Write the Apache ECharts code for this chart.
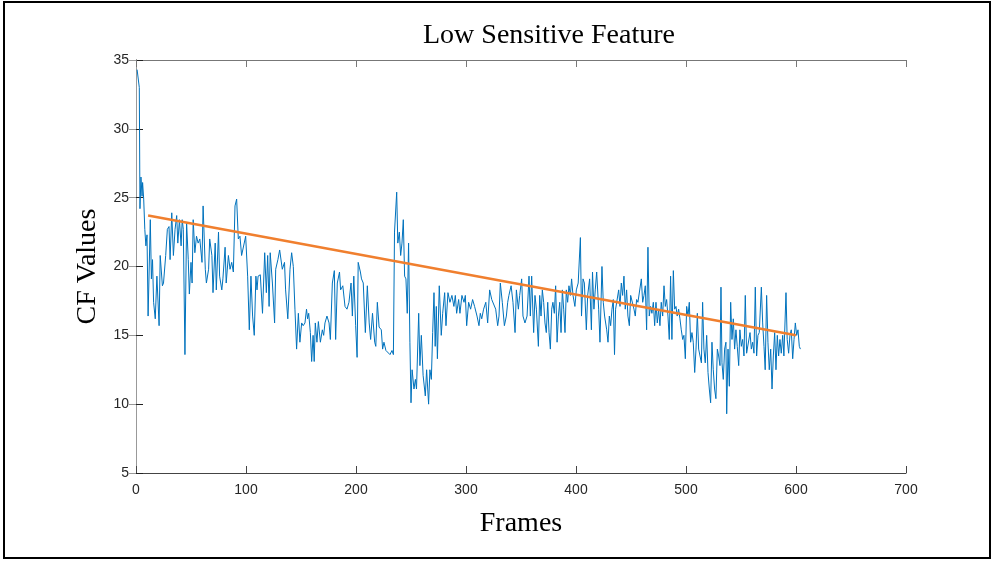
<!DOCTYPE html>
<html>
<head>
<meta charset="utf-8">
<title>Low Sensitive Feature</title>
<script src="https://cdn.jsdelivr.net/npm/echarts@6/dist/echarts.min.js"></script>
<style>
  html, body { margin: 0; padding: 0; background: #fff; }
  #chart { width: 993px; height: 563px; }
</style>
</head>
<body>
<div id="chart"></div>
<script>
// tick labels
const xTicks = [0, 100, 200, 300, 400, 500, 600, 700];
const yTicks = [5, 10, 15, 20, 25, 30, 35];

// CF value per frame [frame, value]
const cfPoints = [
  [1, 34.3], [3, 33.0], [3.6, 24.2], [4.5, 26.5], [5.5, 25.1], [6, 26.1], [7, 24.9], [8, 22.7],
  [9, 21.5], [10, 22.3], [11, 16.4], [13, 23.4], [14, 19.1], [15, 20.5], [16, 17.4], [17.5, 16.2],
  [19, 19.3], [21, 15.7], [22, 20.8], [24, 18.6], [25, 18.8], [27, 20.8], [28.5, 22.7], [30, 22.9],
  [31, 20.5], [32.5, 23.9], [34, 20.8], [35.5, 22.7], [37, 23.7], [38, 21.7], [39.5, 23.4], [41, 21.5],
  [42, 23.4], [43, 22.7], [44.5, 13.6], [46, 23.2], [47.5, 20.5], [48.5, 18.0], [50, 20.3], [51, 18.8],
  [52, 23.4], [53.5, 21.0], [55, 22.2], [56.5, 21.7], [58, 22.0], [60, 20.3], [61, 24.4], [63, 19.8],
  [64, 18.8], [66, 19.8], [67, 22.0], [69, 20.8], [70, 18.1], [72, 21.7], [73, 18.3], [75, 22.5],
  [76, 19.3], [78, 18.3], [79, 19.1], [81, 21.4], [82, 18.8], [84, 20.8], [85.5, 19.8], [87, 20.3],
  [88.5, 19.6], [90, 24.4], [91.5, 24.9], [93, 22.0], [94.5, 22.2], [96, 20.8], [97.5, 20.8],
  [99.7, 22.2], [101.5, 19.3], [103, 15.4], [104.5, 19.3], [106, 16.4], [107.5, 15.0], [109, 19.3],
  [110, 18.3], [111, 19.3], [113, 19.4], [115, 16.6], [117, 21.0], [118.5, 18.1], [119.7, 20.8],
  [121, 17.1], [122, 21.0], [124, 18.8], [126, 15.9], [127, 19.8], [129, 20.5], [130.6, 21.2],
  [132, 21.2], [133, 19.8], [135, 20.3], [136, 18.3], [138, 16.2], [140, 19.8], [141.5, 21.0],
  [143, 20.0], [144.5, 16.9], [146, 14.0], [147.6, 16.6], [149, 14.5], [150.6, 15.9], [152, 15.7],
  [153.6, 15.9], [155, 16.9], [156, 16.2], [157, 16.6], [158.5, 15.2], [159.7, 13.1], [161, 15.0],
  [162, 13.1], [163, 15.9], [164.5, 14.5], [165.8, 16.0], [167.6, 14.5], [169.4, 15.4], [170.6, 15.0],
  [171.8, 15.9], [173.6, 16.4], [175.5, 15.9], [176.7, 14.7], [178.5, 18.8], [180.3, 19.7], [181.5, 14.7],
  [183, 18.8], [185, 19.6], [186, 18.3], [188, 18.6], [190, 17.1], [191.8, 16.9], [193.6, 17.4],
  [195.5, 18.8], [196.7, 16.4], [198, 19.3], [199.7, 15.7], [201, 13.4], [202, 20.3], [204, 19.6],
  [205, 19.1], [206.6, 18.8], [208.5, 15.2], [210.3, 18.6], [212, 15.9], [213.3, 14.7], [215, 16.6],
  [217, 14.5], [218, 14.2], [219.4, 17.4], [221, 15.6], [223, 15.4], [224.2, 14.0], [225.4, 14.5],
  [227.2, 13.9], [229, 13.9], [230.9, 13.6], [232.7, 13.9], [234, 13.6], [235, 22.5], [237, 25.4],
  [238, 21.7], [239.4, 22.5], [240.6, 20.8], [241.8, 21.7], [243, 23.4], [244.2, 19.3], [245.4, 19.1],
  [246.6, 16.6], [247.8, 21.7], [249, 14.5], [250, 10.1], [251, 12.5], [252.7, 11.1], [254, 11.8],
  [255, 11.1], [257, 16.6], [258.1, 12.8], [259.4, 15.0], [261, 12.1], [263, 10.6], [264.2, 12.5],
  [266, 10.0], [267.2, 12.5], [268.5, 11.8], [269.7, 15.2], [270.9, 18.1], [272, 14.2], [273, 17.1],
  [274, 13.3], [275.7, 18.6], [277.5, 15.0], [278.8, 16.6], [280.6, 18.1], [281.8, 15.7], [283.6, 18.1],
  [285.4, 17.4], [287.2, 17.9], [289, 17.1], [290.3, 17.9], [291.5, 16.6], [293.3, 17.6], [294.5, 16.6],
  [296.3, 17.9], [298.2, 17.4], [299.4, 17.9], [300.6, 15.7], [302.4, 17.4], [304.2, 16.9], [306, 17.6],
  [307.8, 17.1], [310, 16.4], [311.8, 15.7], [313, 16.6], [314.3, 16.2], [316, 16.9], [318, 17.4],
  [319.7, 15.9], [321.5, 18.3], [323.4, 17.6], [325, 17.6], [327, 16.9], [328.8, 15.7], [330, 16.4],
  [331.2, 18.8], [333, 17.4], [334.9, 15.7], [336.7, 16.4], [337.9, 17.4], [339, 17.9], [341, 18.6],
  [342.7, 17.4], [344.6, 15.2], [345.8, 18.3], [347.6, 16.9], [348.8, 17.9], [350.6, 19.1], [351.8, 16.4],
  [353.6, 15.9], [355.5, 16.4], [357.3, 19.3], [358.5, 16.4], [359.7, 19.3], [361.5, 15.2], [362.7, 17.9],
  [364, 16.9], [365.8, 14.2], [367, 17.9], [368.2, 16.4], [369.4, 18.3], [370.6, 17.4], [371.8, 15.9],
  [373, 15.2], [374.3, 17.4], [375.5, 15.2], [376.7, 14.0], [377.9, 16.9], [379, 17.4], [380.3, 16.6],
  [381.5, 18.6], [382.8, 14.5], [384, 16.4], [385.2, 17.4], [386.4, 15.2], [387.6, 18.3], [388.8, 16.9],
  [390, 15.2], [391.2, 18.3], [392.4, 17.4], [393.6, 18.6], [394.9, 17.9], [396, 19.1], [397.3, 17.9],
  [399, 17.1], [400.3, 18.3], [402, 18.8], [404, 22.1], [405, 16.4], [406.4, 19.1], [407.6, 18.8],
  [409.4, 15.4], [410.6, 17.9], [412.4, 19.1], [414, 15.4], [415, 19.6], [416.3, 16.9], [417.5, 18.3],
  [418.8, 19.6], [420.6, 16.9], [421.8, 14.5], [423.6, 20.0], [424.8, 17.4], [426, 16.4], [427.9, 15.4],
  [429.1, 14.5], [430.3, 16.4], [431.5, 15.7], [432.7, 16.9], [433.9, 17.6], [435, 13.6], [436, 16.9],
  [437, 17.4], [438.8, 18.3], [440, 17.1], [441.2, 18.8], [442.4, 17.9], [443.6, 19.3], [444.8, 16.9],
  [446, 18.3], [447.2, 16.4], [448.5, 15.7], [449.7, 17.9], [451.5, 17.9], [452.7, 16.9], [453.9, 16.4],
  [455.1, 17.6], [456.3, 17.4], [457.5, 17.4], [459.4, 19.1], [460.6, 17.4], [461.8, 17.9], [463, 18.6],
  [464.2, 15.4], [465.4, 21.4], [466.6, 16.4], [467.8, 17.1], [469, 16.6], [470.3, 17.4], [471.5, 15.7],
  [472.7, 17.4], [473.9, 15.9], [475.1, 16.9], [476.3, 15.7], [477.5, 17.4], [478.8, 16.4], [480, 18.6],
  [481.2, 17.1], [482.4, 17.6], [483.6, 16.4], [484.8, 14.7], [486, 19.3], [487.2, 14.7], [488.5, 19.7],
  [489.7, 16.9], [490.9, 17.1], [492, 16.4], [493.3, 16.9], [494.5, 16.2], [495.7, 15.4], [497, 14.7],
  [498.1, 15.0], [499.4, 13.3], [500.6, 17.1], [501.8, 16.4], [503, 17.4], [504.2, 14.5], [505.4, 15.2],
  [506.6, 14.5], [507.9, 12.3], [509.1, 14.0], [510.3, 16.6], [511.5, 14.0], [514, 13.0], [515.1, 17.4],
  [516.3, 14.0], [517.5, 13.0], [518.8, 15.0], [520, 12.3], [521.2, 11.1], [522.4, 10.1], [523.6, 14.5],
  [524.8, 12.5], [526, 11.1], [527.2, 10.4], [528.5, 14.0], [529.7, 13.5], [530.9, 12.8], [531.8, 18.5],
  [532.7, 13.0], [533.9, 11.8], [535.1, 14.0], [536.3, 14.5], [537, 9.3], [538.2, 14.0], [539.4, 11.3],
  [540.6, 17.4], [541.8, 14.7], [543, 16.2], [544.2, 14.0], [545.4, 15.4], [546.6, 14.2], [547.9, 12.8],
  [549, 15.4], [550.3, 14.2], [551.5, 14.7], [552.7, 13.5], [553.9, 17.9], [555.1, 13.7], [556.3, 13.7],
  [558.2, 15.2], [559.4, 14.0], [560.6, 14.5], [561.8, 13.7], [563, 18.5], [564.2, 13.5], [565.4, 15.0],
  [566.6, 15.2], [568.5, 18.5], [569.7, 15.9], [570.9, 14.2], [572, 12.5], [573.3, 17.9], [574.5, 14.5],
  [575.7, 12.5], [577, 14.0], [578.2, 11.1], [579.4, 13.5], [580.6, 15.2], [581.8, 12.5], [583, 15.0],
  [584.2, 13.5], [585.4, 14.7], [586.6, 13.7], [587.9, 15.0], [589, 13.5], [590.9, 18.1], [592, 14.7],
  [593.3, 13.7], [594.5, 15.0], [595.7, 15.4], [597, 13.3], [598.2, 14.7], [599.4, 15.9], [600.6, 15.0],
  [601.8, 15.4], [603, 14.2], [604, 14.0]
];

// linear trend line (orange), ends
const trendFrames = [11, 600];
const trendValues = [23.7, 15.0];

const chart = echarts.init(document.getElementById('chart'));

const labelStyle = { color: '#262626', fontFamily: 'Liberation Sans, Arial, sans-serif', fontSize: 14 };
const serif = 'Liberation Serif, Times New Roman, serif';

// MATLAB-like box: ticks inside on every side
function boxAxis(color, extra) {
  return Object.assign({
    type: 'value',
    axisLine: { show: true, lineStyle: { color: color, width: 1 } },
    axisTick: { show: true, inside: true, length: 7, lineStyle: { color: color } },
    splitLine: { show: false }
  }, extra);
}

const option = {
  animation: false,
  backgroundColor: '#fff',
  title: {
    text: 'Low Sensitive Feature',
    left: 418,
    top: 17,
    textStyle: { fontFamily: serif, fontSize: 28, fontWeight: 'normal', color: '#000' }
  },
  grid: { left: 136, right: 87, top: 60, bottom: 90, show: false },
  xAxis: [
    boxAxis('#444', {
      min: 0, max: 700, interval: 100,
      name: 'Frames', nameLocation: 'middle', nameGap: 37,
      nameTextStyle: { fontFamily: serif, fontSize: 28, color: '#000' },
      axisLabel: Object.assign({ margin: 10, formatter: v => xTicks.includes(v) ? String(v) : '' }, labelStyle)
    }),
    boxAxis('#777', { min: 0, max: 700, interval: 100, position: 'top', axisLabel: { show: false } })
  ],
  yAxis: [
    boxAxis('#222', {
      min: 5, max: 35, interval: 5,
      name: 'CF Values', nameLocation: 'middle', nameGap: 34, nameRotate: 90,
      nameTextStyle: { fontFamily: serif, fontSize: 28, color: '#000' },
      axisLabel: Object.assign({ margin: 7, formatter: v => yTicks.includes(v) ? String(v) : '' }, labelStyle)
    }),
    boxAxis('#999', { min: 5, max: 35, interval: 5, position: 'right', axisLabel: { show: false } })
  ],
  series: [
    {
      name: 'CF',
      type: 'line',
      data: cfPoints,
      showSymbol: false,
      lineStyle: { color: '#0072BD', width: 1 },
      itemStyle: { color: '#0072BD' }
    },
    {
      name: 'Trend',
      type: 'line',
      data: trendFrames.map((f, i) => [f, trendValues[i]]),
      showSymbol: false,
      lineStyle: { color: '#F07F2E', width: 2.5 },
      itemStyle: { color: '#F07F2E' }
    }
  ],
  graphic: [
    {
      type: 'rect',
      shape: { x: 4, y: 2, width: 986, height: 556 },
      style: { fill: 'none', stroke: '#000', lineWidth: 2 },
      silent: true
    }
  ]
};

chart.setOption(option);
</script>
</body>
</html>
